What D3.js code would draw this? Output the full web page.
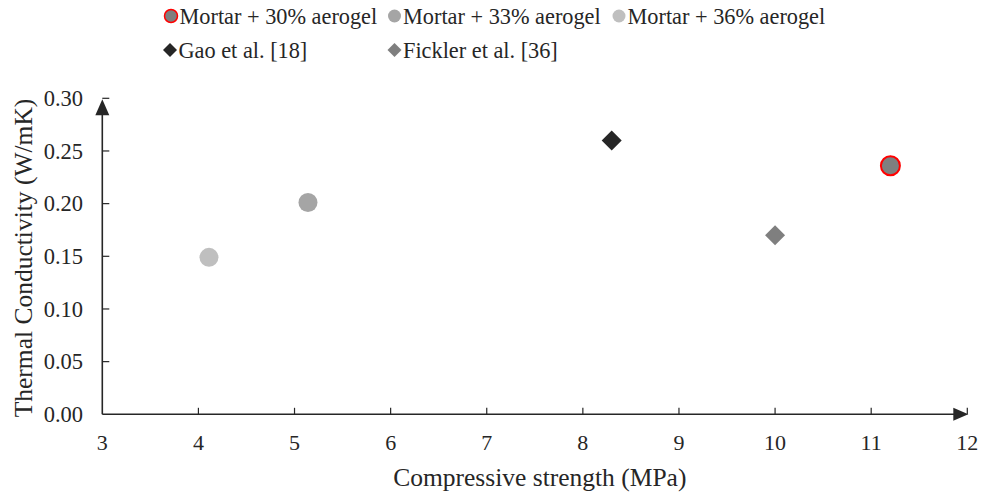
<!DOCTYPE html>
<html>
<head>
<meta charset="utf-8">
<script src="https://cdn.jsdelivr.net/npm/d3@7/dist/d3.min.js"></script>
<style>
  html, body { margin: 0; padding: 0; background: #fff; }
  svg { display: block; }
</style>
</head>
<body>
<svg id="chart" width="983" height="494"></svg>
<script>
// Series: name, marker shape, fill, stroke, x (MPa), y (W/mK)
const seriesNames = ["Mortar + 30% aerogel", "Mortar + 33% aerogel", "Mortar + 36% aerogel", "Gao et al. [18]", "Fickler et al. [36]"];
const seriesShapes = ["circle", "circle", "circle", "diamond", "diamond"];
const seriesFills = ["#7f7f7f", "#a5a5a5", "#bfbfbf", "#262626", "#7f7f7f"];
const seriesStrokes = ["#ff0000", "none", "none", "none", "none"];
const strengthMPa = [11.2, 5.14, 4.11, 8.3, 10.0];
const conductivity = [0.236, 0.201, 0.149, 0.26, 0.17];

const xTicks = [3, 4, 5, 6, 7, 8, 9, 10, 11, 12];
const yTicks = [0, 0.05, 0.10, 0.15, 0.20, 0.25, 0.30];

const FONT = "'Liberation Serif', 'Times New Roman', 'DejaVu Serif', serif";
const svg = d3.select("#chart")
  .attr("font-family", FONT);
const axisColor = "#262626";
const textColor = "#262626";

const x = d3.scaleLinear().domain([3, 12]).range([102.3, 967.3]);
const y = d3.scaleLinear().domain([0, 0.30]).range([414.3, 98.3]);

// X axis line with arrowhead
svg.append("line")
  .attr("x1", x(3)).attr("x2", x(12) - 6)
  .attr("y1", y(0)).attr("y2", y(0))
  .attr("stroke", axisColor).attr("stroke-width", 1.6);
svg.append("path")
  .attr("d", `M${x(12) + 1},${y(0)} L${x(12) - 14},${y(0) - 6.5} L${x(12) - 14},${y(0) + 6.5} Z`)
  .attr("fill", axisColor);

// Y axis line with arrowhead
svg.append("line")
  .attr("x1", x(3)).attr("x2", x(3))
  .attr("y1", y(0)).attr("y2", y(0.30) + 6)
  .attr("stroke", axisColor).attr("stroke-width", 1.6);
svg.append("path")
  .attr("d", `M${x(3)},${y(0.30) + 1} L${x(3) - 7},${y(0.30) + 17} L${x(3) + 7},${y(0.30) + 17} Z`)
  .attr("fill", axisColor);

// X ticks (pointing inward) and labels
svg.selectAll(".xtick").data(xTicks.slice(1)).enter().append("line")
  .attr("x1", d => x(d)).attr("x2", d => x(d))
  .attr("y1", y(0)).attr("y2", y(0) - 6.5)
  .attr("stroke", axisColor).attr("stroke-width", 1.2);
svg.selectAll(".xlab").data(xTicks).enter().append("text")
  .attr("x", d => x(d)).attr("y", 450)
  .attr("text-anchor", "middle")
  .attr("font-size", 22)
  .attr("fill", textColor)
  .text(d => d);

// Y ticks (pointing inward) and labels
svg.selectAll(".ytick").data(yTicks.slice(1)).enter().append("line")
  .attr("x1", x(3)).attr("x2", x(3) + 7)
  .attr("y1", d => y(d)).attr("y2", d => y(d))
  .attr("stroke", axisColor).attr("stroke-width", 1.2);
svg.selectAll(".ylab").data(yTicks).enter().append("text")
  .attr("x", 83).attr("y", d => y(d))
  .attr("dy", "0.34em")
  .attr("text-anchor", "end")
  .attr("font-size", 22.5)
  .attr("fill", textColor)
  .text(d => d3.format(".2f")(d));

// Axis titles
svg.append("text")
  .attr("x", (x(3) + x(12)) / 2 + 5).attr("y", 486)
  .attr("text-anchor", "middle").attr("font-size", 25.5)
  .attr("fill", textColor)
  .text("Compressive strength (MPa)");
svg.append("text")
  .attr("transform", `translate(32,258) rotate(-90)`)
  .attr("text-anchor", "middle").attr("font-size", 25.5)
  .attr("fill", textColor)
  .text("Thermal Conductivity (W/mK)");

// Marker drawing helper
function marker(sel, shape, size) {
  if (shape === "circle") {
    return sel.append("circle").attr("r", size);
  }
  const s = size;
  return sel.append("path").attr("d", `M0,${-s} L${s},0 L0,${s} L${-s},0 Z`);
}

// Data points
seriesNames.forEach((name, i) => {
  const g = svg.append("g")
    .attr("transform", `translate(${x(strengthMPa[i])},${y(conductivity[i])})`);
  const m = marker(g, seriesShapes[i], seriesShapes[i] === "circle" ? 9.5 : 10);
  m.attr("fill", seriesFills[i])
    .attr("stroke", seriesStrokes[i])
    .attr("stroke-width", seriesStrokes[i] === "none" ? 0 : 2);
});

// Legend
const legendPos = [[171, 16], [394.5, 16], [619, 16], [170, 50], [394.5, 50]];
seriesNames.forEach((name, i) => {
  const [lx, ly] = legendPos[i];
  const g = svg.append("g").attr("transform", `translate(${lx},${ly})`);
  const m = marker(g, seriesShapes[i], seriesShapes[i] === "circle" ? 6.5 : 7);
  m.attr("fill", seriesFills[i])
    .attr("stroke", seriesStrokes[i])
    .attr("stroke-width", seriesStrokes[i] === "none" ? 0 : 1.5);
  svg.append("text")
    .attr("x", lx + 8.5).attr("y", ly + 7.5)
    .attr("font-size", 22.3)
    .attr("fill", textColor)
    .text(name);
});
</script>
</body>
</html>
